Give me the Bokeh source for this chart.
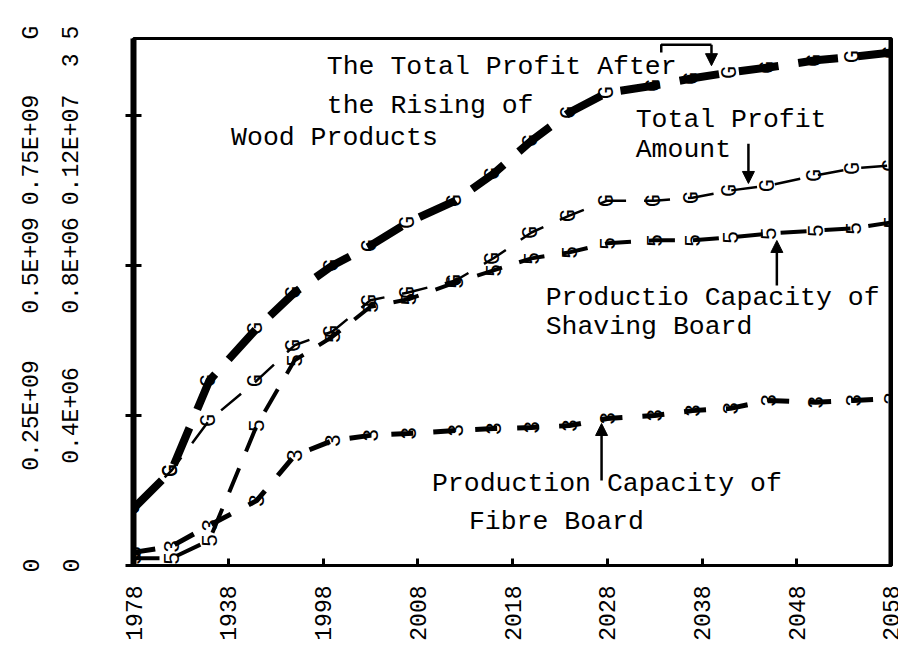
import math
from bokeh.plotting import figure
from bokeh.models import Range1d, LinearAxis, FixedTicker, Arrow, NormalHead, Label, Span
from bokeh.core.properties import value
from bokeh.embed import file_html
from bokeh.resources import INLINE

# ---- data ----
years = [1978, 1982, 1986, 1991, 1995, 1999, 2003, 2007, 2012, 2016,
         2020, 2024, 2028, 2033, 2037, 2041, 2045, 2050, 2054, 2058]
profit_after_rise = [0.095e9, 0.158e9, 0.308e9, 0.395e9, 0.455e9, 0.500e9, 0.533e9, 0.572e9, 0.608e9, 0.653e9,
                     0.708e9, 0.755e9, 0.788e9, 0.800e9, 0.812e9, 0.822e9, 0.830e9, 0.842e9, 0.848e9, 0.855e9]
profit_total = [0.095e9, 0.158e9, 0.242e9, 0.308e9, 0.367e9, 0.390e9, 0.442e9, 0.455e9, 0.475e9, 0.512e9,
                0.555e9, 0.583e9, 0.608e9, 0.608e9, 0.613e9, 0.625e9, 0.633e9, 0.650e9, 0.662e9, 0.667e9]
shaving_capacity = [0.019e6, 0.019e6, 0.067e6, 0.373e6, 0.547e6, 0.610e6, 0.690e6, 0.710e6, 0.755e6, 0.787e6,
                    0.819e6, 0.835e6, 0.859e6, 0.867e6, 0.867e6, 0.875e6, 0.885e6, 0.893e6, 0.899e6, 0.915e6]
fibre_capacity = [0.035e6, 0.051e6, 0.107e6, 0.173e6, 0.293e6, 0.333e6, 0.347e6, 0.352e6, 0.360e6, 0.365e6,
                  0.368e6, 0.373e6, 0.392e6, 0.400e6, 0.413e6, 0.419e6, 0.440e6, 0.435e6, 0.440e6, 0.445e6]

year_ticks = [1978, 1988, 1998, 2008, 2018, 2028, 2038, 2048, 2058]
year_labels = ["1978", "1938", "1998", "2008", "2018", "2028", "2038", "2048", "2058"]
profit_ticks = [0, 0.25e9, 0.5e9, 0.75e9]
profit_labels = ["0", "0.25E+09", "0.5E+09", "0.75E+09\u00a0\u00a0\u00a0\u00a0G"]
cap_ticks = [0, 0.4e6, 0.8e6, 1.2e6]
cap_labels = ["0", "0.4E+06", "0.8E+06", "0.12E+07\u00a0\u00a03\u00a05"]

FONT = "Liberation Mono"

p = figure(frame_width=758, frame_height=527,
           x_range=Range1d(1978, 2058), y_range=Range1d(0, 0.8783e9),
           output_backend="svg", toolbar_location=None,
           y_axis_location=None,
           min_border_left=0, min_border_right=7, min_border_top=38, min_border_bottom=10)
p.extra_y_ranges = {"cap": Range1d(0, 1.4053e6)}
p.background_fill_color = "white"
p.border_fill_color = "white"
p.grid.visible = False
p.outline_line_color = "black"
p.outline_line_width = 3

# bottom axis
xa = p.xaxis[0]
xa.ticker = FixedTicker(ticks=year_ticks)
xa.major_label_overrides = {t: l for t, l in zip(year_ticks, year_labels)}
xa.major_label_orientation = math.pi / 2
xa.major_label_text_font = FONT
xa.major_label_text_font_size = "23px"
xa.major_label_text_color = "black"
xa.major_label_standoff = 20
xa.major_tick_in = 7
xa.major_tick_out = 0
xa.major_tick_line_width = 3
xa.minor_tick_line_color = None
xa.axis_line_width = 3

# left axes (inner: capacity, outer: profit)
cap_axis = LinearAxis(y_range_name="cap", ticker=FixedTicker(ticks=cap_ticks),
                      major_label_overrides={t: l for t, l in zip(cap_ticks, cap_labels)})
cap_axis.major_label_orientation = "parallel"
cap_axis.major_label_text_font = FONT
cap_axis.major_label_text_font_size = "23px"
cap_axis.major_label_text_color = "black"
cap_axis.major_label_standoff = 40
cap_axis.major_tick_in = 8
cap_axis.major_tick_out = 8
cap_axis.major_tick_line_width = 3
cap_axis.minor_tick_line_color = None
cap_axis.axis_line_width = 6
p.add_layout(cap_axis, "left")

g_axis = LinearAxis(ticker=FixedTicker(ticks=profit_ticks),
                    major_label_overrides={t: l for t, l in zip(profit_ticks, profit_labels)})
g_axis.major_label_orientation = "parallel"
g_axis.major_label_text_font = FONT
g_axis.major_label_text_font_size = "23px"
g_axis.major_label_text_color = "black"
g_axis.major_label_standoff = 11
g_axis.major_tick_in = 0
g_axis.major_tick_out = 0
g_axis.minor_tick_line_color = None
g_axis.axis_line_color = None
g_axis.axis_label = "\u00a0"
g_axis.axis_label_text_font_size = "1px"
g_axis.axis_label_standoff = 12
p.add_layout(g_axis, "left")

p.add_layout(Span(location=2058, dimension="height", line_color="black", line_width=6))

# series
p.line(years, profit_after_rise, line_color="black", line_width=8, line_dash="40 20")
p.line(years, profit_total, line_color="black", line_width=2.5, line_dash="26 18")
p.line(years, shaving_capacity, y_range_name="cap", line_color="black", line_width=4, line_dash="26 18")
p.line(years, fibre_capacity, y_range_name="cap", line_color="black", line_width=5, line_dash="22 20")

mk = dict(angle=math.pi / 2, text_align="center", text_baseline="middle",
          text_font=value(FONT), text_font_size="22px", text_color="black")
p.text(years, profit_after_rise, text=value("G"), **mk)
p.text(years, profit_total, text=value("G"), **mk)
p.text(years, shaving_capacity, text=value("5"), y_range_name="cap", **mk)
p.text(years, fibre_capacity, text=value("3"), y_range_name="cap", **mk)

# annotations
lab = dict(text_font=FONT, text_font_size="26.5px", text_color="black",
           text_baseline="middle", text_align="left")
for txt, x, y in [("The Total Profit After", 1998.4, 0.830e9),
                  ("the Rising of", 1998.4, 0.765e9),
                  ("Wood Products", 1988.3, 0.713e9),
                  ("Total Profit", 2031.0, 0.743e9),
                  ("Amount", 2031.0, 0.692e9),
                  ("Productio Capacity of", 2021.5, 0.445e9),
                  ("Shaving Board", 2021.5, 0.397e9),
                  ("Production Capacity of", 2009.5, 0.135e9),
                  ("Fibre Board", 2013.4, 0.0717e9)]:
    p.add_layout(Label(x=x, y=y, text=txt, **lab))

p.line([2033.7, 2033.7, 2039.0], [0.855e9, 0.868e9, 0.868e9], line_color="black", line_width=2.5)
head = dict(size=12, fill_color="black", line_color="black")
for xs, ys, xe, ye in [(2039.0, 0.868e9, 2039.0, 0.833e9),
                       (2042.9, 0.703e9, 2042.9, 0.6367e9),
                       (2045.9, 0.4667e9, 2045.9, 0.5417e9),
                       (2027.4, 0.1417e9, 2027.4, 0.2367e9)]:
    p.add_layout(Arrow(end=NormalHead(**head), x_start=xs, y_start=ys, x_end=xe, y_end=ye,
                       line_color="black", line_width=2.5))

open("out.html", "w").write(file_html(p, INLINE))
